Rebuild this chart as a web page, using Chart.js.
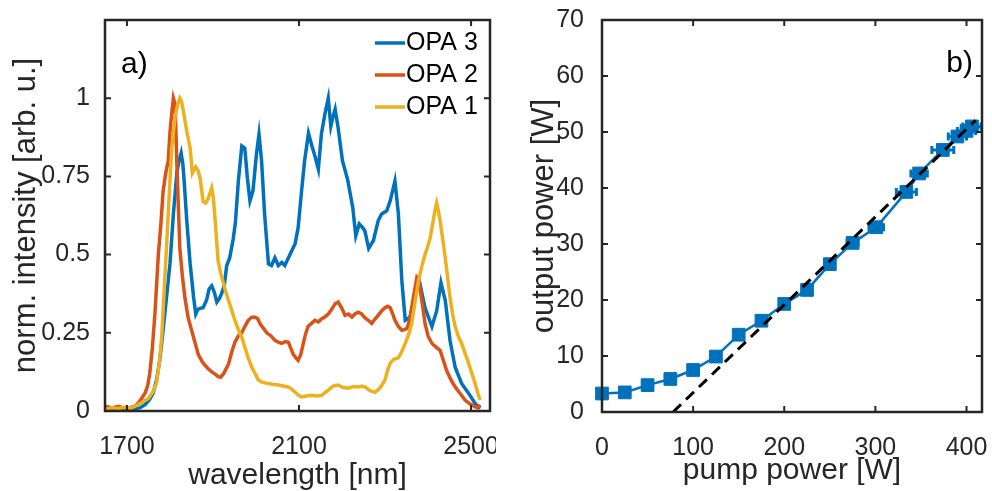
<!DOCTYPE html>
<html>
<head>
<meta charset="utf-8">
<script src="https://cdn.jsdelivr.net/npm/chart.js@4.4.1/dist/chart.umd.min.js"></script>
<style>
  html, body { margin: 0; padding: 0; background: #fff; }
  #wrap { position: relative; width: 992px; height: 491px; }
  canvas { position: absolute; top: 0; }
  #spec { left: 0; }
  #power { left: 496px; }
</style>
</head>
<body>
<div id="wrap">
  <canvas id="spec" width="496" height="491"></canvas>
  <canvas id="power" width="496" height="491"></canvas>
</div>
<script>
// panel a) spectra
const opa3Wl  = [1649, 1680, 1710, 1730, 1742, 1752, 1761, 1769, 1776, 1782, 1788, 1794, 1800, 1808, 1816, 1821, 1826, 1830, 1833, 1839, 1847, 1855, 1860, 1865, 1870, 1877, 1885, 1891, 1897, 1903, 1909, 1915, 1920, 1926, 1932, 1939, 1947, 1952, 1959, 1967, 1974, 1980, 1986, 1993, 2001, 2007, 2013, 2020, 2029, 2036, 2044, 2052, 2060, 2067, 2079, 2091, 2098, 2106, 2113, 2122, 2130, 2137, 2145, 2152, 2160, 2168, 2174, 2179, 2184, 2191, 2201, 2213, 2225, 2232, 2240, 2248, 2253, 2262, 2273, 2284, 2292, 2304, 2312, 2323, 2331, 2339, 2347, 2358, 2370, 2381, 2393, 2409, 2420, 2430, 2440, 2451, 2463, 2478, 2494, 2509, 2517, 2522];
const opa3Int = [0.005, 0.005, 0.006, 0.01, 0.02, 0.035, 0.057, 0.1, 0.16, 0.23, 0.31, 0.39, 0.47, 0.63, 0.76, 0.8, 0.825, 0.79, 0.735, 0.61, 0.47, 0.363, 0.31, 0.325, 0.328, 0.33, 0.354, 0.39, 0.4, 0.38, 0.348, 0.36, 0.375, 0.4, 0.465, 0.49, 0.55, 0.6, 0.735, 0.847, 0.84, 0.745, 0.672, 0.704, 0.82, 0.885, 0.8, 0.63, 0.47, 0.465, 0.49, 0.465, 0.475, 0.465, 0.5, 0.535, 0.586, 0.704, 0.8, 0.888, 0.847, 0.815, 0.773, 0.885, 0.948, 1.0, 0.91, 0.94, 0.965, 0.905, 0.8, 0.74, 0.65, 0.56, 0.598, 0.586, 0.576, 0.52, 0.545, 0.608, 0.63, 0.64, 0.672, 0.735, 0.63, 0.417, 0.29, 0.3, 0.375, 0.407, 0.33, 0.27, 0.32, 0.41, 0.354, 0.226, 0.14, 0.088, 0.057, 0.025, 0.013, 0.01];

const opa2Wl  = [1649, 1665, 1680, 1695, 1710, 1719, 1726, 1734, 1742, 1748, 1753, 1759, 1765, 1773, 1779, 1784, 1790, 1796, 1800, 1804, 1808, 1812, 1816, 1823, 1829, 1835, 1842, 1850, 1858, 1866, 1874, 1881, 1889, 1897, 1905, 1912, 1918, 1925, 1936, 1944, 1951, 1959, 1967, 1974, 1982, 1990, 1998, 2004, 2009, 2017, 2025, 2035, 2044, 2052, 2060, 2068, 2075, 2081, 2087, 2093, 2098, 2104, 2110, 2115, 2121, 2129, 2137, 2145, 2153, 2160, 2168, 2176, 2184, 2191, 2199, 2207, 2215, 2223, 2230, 2238, 2246, 2253, 2261, 2269, 2277, 2284, 2292, 2300, 2306, 2312, 2318, 2323, 2331, 2339, 2345, 2351, 2357, 2362, 2368, 2374, 2378, 2381, 2387, 2393, 2400, 2409, 2418, 2428, 2436, 2443, 2453, 2463, 2475, 2486, 2498, 2509, 2515, 2521];
const opa2Int = [0.015, 0.01, 0.015, 0.008, 0.012, 0.015, 0.025, 0.04, 0.057, 0.08, 0.12, 0.2, 0.31, 0.5, 0.6, 0.7, 0.76, 0.8, 0.89, 0.95, 1.0, 0.98, 0.79, 0.52, 0.43, 0.36, 0.3, 0.26, 0.22, 0.18, 0.16, 0.147, 0.135, 0.125, 0.118, 0.11, 0.108, 0.12, 0.15, 0.19, 0.22, 0.24, 0.25, 0.27, 0.29, 0.3, 0.3, 0.295, 0.28, 0.265, 0.25, 0.24, 0.226, 0.22, 0.216, 0.222, 0.22, 0.2, 0.18, 0.17, 0.162, 0.18, 0.216, 0.245, 0.27, 0.28, 0.29, 0.285, 0.295, 0.3, 0.31, 0.325, 0.343, 0.348, 0.33, 0.306, 0.31, 0.3, 0.31, 0.316, 0.31, 0.298, 0.29, 0.28, 0.295, 0.306, 0.32, 0.33, 0.335, 0.33, 0.31, 0.29, 0.27, 0.258, 0.26, 0.264, 0.29, 0.33, 0.38, 0.427, 0.42, 0.395, 0.34, 0.28, 0.24, 0.216, 0.205, 0.194, 0.16, 0.13, 0.1, 0.077, 0.055, 0.035, 0.022, 0.014, 0.01, 0.02];

const opa1Wl  = [1649, 1665, 1680, 1695, 1710, 1726, 1738, 1750, 1760, 1769, 1775, 1781, 1788, 1796, 1804, 1812, 1818, 1823, 1827, 1831, 1839, 1847, 1852, 1856, 1860, 1865, 1870, 1877, 1883, 1889, 1897, 1901, 1905, 1912, 1918, 1924, 1930, 1936, 1944, 1951, 1959, 1967, 1975, 1982, 1990, 1998, 2005, 2013, 2021, 2029, 2040, 2052, 2063, 2075, 2083, 2091, 2099, 2106, 2117, 2129, 2141, 2153, 2160, 2168, 2180, 2191, 2203, 2214, 2226, 2238, 2246, 2253, 2265, 2277, 2289, 2300, 2306, 2312, 2320, 2331, 2339, 2347, 2355, 2362, 2370, 2378, 2385, 2393, 2400, 2405, 2412, 2416, 2420, 2424, 2428, 2434, 2440, 2446, 2451, 2457, 2463, 2470, 2478, 2486, 2494, 2502, 2509, 2515, 2521];
const opa1Int = [0.005, 0.01, 0.008, 0.012, 0.01, 0.02, 0.03, 0.04, 0.06, 0.09, 0.15, 0.24, 0.42, 0.63, 0.84, 0.94, 0.98, 1.0, 0.99, 0.96, 0.895, 0.84, 0.76, 0.77, 0.78, 0.77, 0.745, 0.67, 0.665, 0.68, 0.713, 0.68, 0.61, 0.48, 0.44, 0.41, 0.38, 0.354, 0.32, 0.29, 0.26, 0.236, 0.2, 0.17, 0.14, 0.12, 0.1, 0.093, 0.09, 0.088, 0.085, 0.083, 0.08, 0.077, 0.07, 0.06, 0.05, 0.045, 0.048, 0.05, 0.048, 0.05, 0.058, 0.067, 0.08, 0.083, 0.075, 0.073, 0.078, 0.077, 0.08, 0.077, 0.065, 0.06, 0.075, 0.099, 0.13, 0.153, 0.165, 0.17, 0.19, 0.216, 0.245, 0.28, 0.35, 0.417, 0.46, 0.5, 0.53, 0.554, 0.608, 0.64, 0.665, 0.64, 0.608, 0.55, 0.49, 0.42, 0.363, 0.31, 0.27, 0.24, 0.216, 0.185, 0.153, 0.12, 0.09, 0.06, 0.035];

const specXTicks = [1700, 2100, 2500];
const specYTicks = [0, 0.25, 0.5, 0.75, 1];

// panel b) power scaling
const pumpW   = [0, 25, 50, 75, 100, 125, 150, 175, 200, 225, 250, 275, 301, 334, 348, 374, 390, 400, 406];
const outW    = [3.3, 3.5, 4.8, 5.9, 7.5, 9.9, 13.8, 16.3, 19.3, 21.8, 26.4, 30.2, 33.0, 39.3, 42.6, 46.8, 49.2, 50.2, 51.0];
const pumpErr = [0, 0, 0, 0, 0, 0, 1, 1, 2, 2, 5, 6, 8, 11, 9, 12, 10, 10, 10];
const fitPump = [78, 410];
const fitOut  = [0, 52.1];

const powerXTicks = [0, 100, 200, 300, 400];
const powerYTicks = [0, 10, 20, 30, 40, 50, 60, 70];

const BLUE = '#0072BD', ORANGE = '#D95319', YELLOW = '#EDB120';
const AXIS = '#262626';
const FONT = '"Liberation Sans", Arial, Helvetica, sans-serif';

Chart.defaults.font.family = FONT;
Chart.defaults.color = AXIS;

function pts(xs, ys) {
    return xs.map((x, i) => ({x: x, y: ys[i]}));
}

function fixTicks(list) {
    return function(scale) {
        scale.ticks = list.map(v => ({value: v}));
    };
}

// keep the plot box where it is: no extra room for overhanging tick labels
function fixSize(prop, size) {
    return function(scale) {
        scale[prop] = size;
        scale.paddingLeft = scale.paddingRight = 0;
        scale.paddingTop = scale.paddingBottom = 0;
    };
}

// box round the plot with the ticks pointing inward, on all four sides
const frame = {
    id: 'frame',
    afterDatasetsDraw(chart) {
        const a = chart.chartArea;
        const c = chart.ctx;
        const xs = chart.scales.x, ys = chart.scales.y;
        const len = 6;
        c.save();
        c.strokeStyle = AXIS;
        c.lineWidth = 2;
        c.beginPath();
        xs.ticks.forEach(t => {
            const px = xs.getPixelForValue(t.value);
            c.moveTo(px, a.bottom); c.lineTo(px, a.bottom - len);
            c.moveTo(px, a.top); c.lineTo(px, a.top + len);
        });
        ys.ticks.forEach(t => {
            const py = ys.getPixelForValue(t.value);
            c.moveTo(a.left, py); c.lineTo(a.left + len, py);
            c.moveTo(a.right, py); c.lineTo(a.right - len, py);
        });
        c.stroke();
        c.lineWidth = 2.5;
        c.strokeRect(a.left, a.top, a.right - a.left, a.bottom - a.top);
        c.restore();
    }
};

function panelLabel(text, x, y, align) {
    return {
        id: 'panelLabel',
        afterDraw(chart) {
            const c = chart.ctx;
            c.save();
            c.font = '30px ' + FONT;
            c.fillStyle = '#000';
            c.textAlign = align;
            c.textBaseline = 'alphabetic';
            c.fillText(text, x, y);
            c.restore();
        }
    };
}

const specLegend = {
    id: 'specLegend',
    afterDraw(chart) {
        const c = chart.ctx;
        c.save();
        c.font = '25px ' + FONT;
        c.textBaseline = 'middle';
        c.fillStyle = '#000';
        chart.data.datasets.forEach((ds, i) => {
            const y = 43 + i * 32;
            c.strokeStyle = ds.borderColor;
            c.lineWidth = 3.5;
            c.beginPath();
            c.moveTo(375, y);
            c.lineTo(405, y);
            c.stroke();
            c.fillText(ds.label, 406, y);
        });
        c.restore();
    }
};

// horizontal error bars on the measured points
const xErrorBars = {
    id: 'xErrorBars',
    beforeDatasetsDraw(chart) {
        const xs = chart.scales.x, ys = chart.scales.y;
        const c = chart.ctx;
        c.save();
        c.strokeStyle = BLUE;
        c.lineWidth = 3;
        c.beginPath();
        pumpW.forEach((p, i) => {
            if (!pumpErr[i]) return;
            const y = ys.getPixelForValue(outW[i]);
            const x0 = xs.getPixelForValue(p - pumpErr[i]);
            const x1 = xs.getPixelForValue(p + pumpErr[i]);
            c.moveTo(x0, y); c.lineTo(x1, y);
            c.moveTo(x0, y - 4); c.lineTo(x0, y + 4);
            c.moveTo(x1, y - 4); c.lineTo(x1, y + 4);
        });
        c.stroke();
        c.restore();
    }
};

function spectrum(label, xs, ys, color, order) {
    return {
        label: label,
        data: pts(xs, ys),
        borderColor: color,
        backgroundColor: color,
        borderWidth: 3.5,
        pointRadius: 0,
        tension: 0,
        order: order
    };
}

new Chart(document.getElementById('spec'), {
    type: 'line',
    data: {
        datasets: [
            spectrum('OPA 3', opa3Wl, opa3Int, BLUE, 3),
            spectrum('OPA 2', opa2Wl, opa2Int, ORANGE, 2),
            spectrum('OPA 1', opa1Wl, opa1Int, YELLOW, 1)
        ]
    },
    options: {
        responsive: false,
        animation: false,
        layout: { padding: { left: 5, right: 6, top: 20, bottom: 0 } },
        plugins: { legend: { display: false }, tooltip: { enabled: false } },
        scales: {
            x: {
                type: 'linear',
                min: 1649,
                max: 2544,
                afterBuildTicks: fixTicks(specXTicks),
                afterFit: fixSize('height', 80),
                grid: { display: false },
                border: { display: false },
                ticks: { font: { size: 25 }, padding: 13, maxRotation: 0, callback: v => String(v) },
                title: { display: true, text: 'wavelength [nm]', font: { size: 30, lineHeight: 1 }, padding: 0 }
            },
            y: {
                min: 0,
                max: 1.25,
                afterBuildTicks: fixTicks(specYTicks),
                afterFit: fixSize('width', 100),
                grid: { display: false },
                border: { display: false },
                ticks: { font: { size: 25 }, padding: 7, callback: v => String(v) },
                title: { display: true, text: 'norm. intensity [arb. u.]', font: { size: 31, lineHeight: 1 }, padding: { top: 6, bottom: 0 } }
            }
        }
    },
    plugins: [frame, specLegend, panelLabel('a)', 121, 73, 'left')]
});

new Chart(document.getElementById('power'), {
    type: 'line',
    data: {
        datasets: [
            {
                label: 'linear fit',
                data: pts(fitPump, fitOut),
                borderColor: '#000',
                borderWidth: 3,
                borderDash: [11, 7],
                pointRadius: 0,
                clip: false,
                order: 0
            },
            {
                label: 'output power',
                data: pts(pumpW, outW),
                borderColor: BLUE,
                backgroundColor: BLUE,
                borderWidth: 2.5,
                pointStyle: 'rect',
                pointRadius: 9,
                pointBorderWidth: 1,
                clip: false,
                order: 1
            }
        ]
    },
    options: {
        responsive: false,
        animation: false,
        layout: { padding: { left: 6, right: 7, top: 20, bottom: 0 } },
        plugins: { legend: { display: false }, tooltip: { enabled: false } },
        scales: {
            x: {
                type: 'linear',
                min: 0,
                max: 417,
                afterBuildTicks: fixTicks(powerXTicks),
                afterFit: fixSize('height', 79),
                grid: { display: false },
                border: { display: false },
                ticks: { font: { size: 25 }, padding: 13, maxRotation: 0, callback: v => String(v) },
                title: { display: true, text: 'pump power [W]', font: { size: 30, lineHeight: 1 }, padding: { top: 0, bottom: 5 } }
            },
            y: {
                min: 0,
                max: 70,
                afterBuildTicks: fixTicks(powerYTicks),
                afterFit: fixSize('width', 100),
                grid: { display: false },
                border: { display: false },
                ticks: { font: { size: 25 }, padding: 10, callback: v => String(v) },
                title: { display: true, text: 'output power [W]', font: { size: 31, lineHeight: 1 }, padding: { top: 27, bottom: 0 } }
            }
        }
    },
    plugins: [xErrorBars, frame, panelLabel('b)', 477, 72, 'right')]
});
</script>
</body>
</html>
